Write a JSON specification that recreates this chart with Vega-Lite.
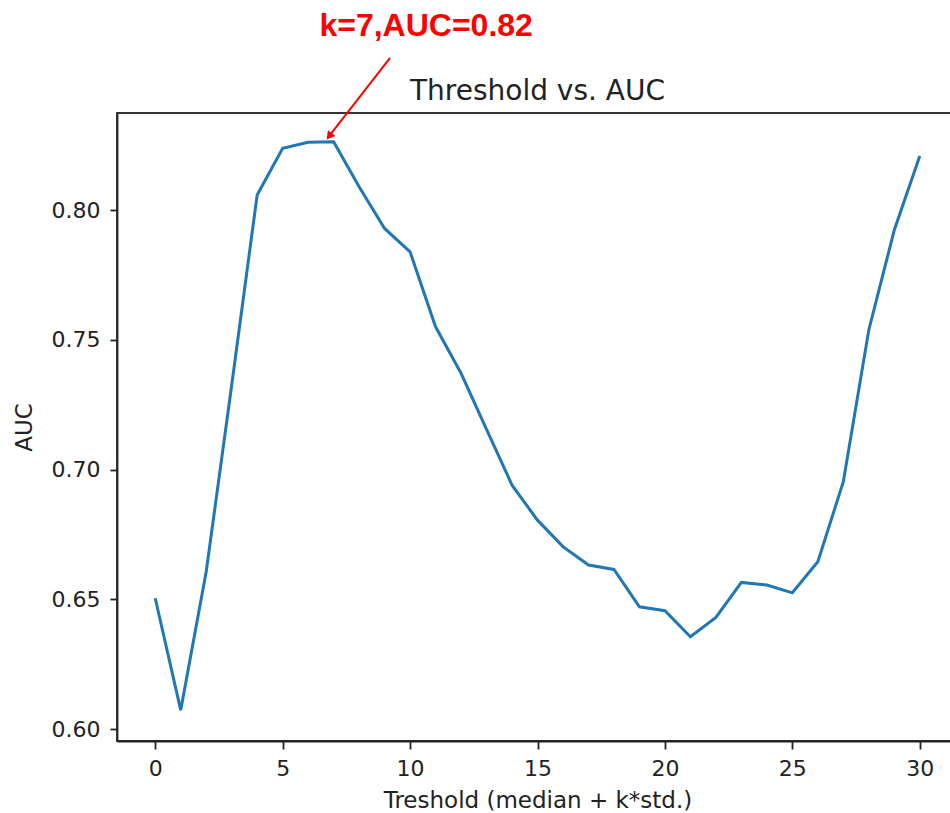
{
  "$schema": "https://vega.github.io/schema/vega-lite/v6.json",
  "width": 841,
  "height": 628,
  "autosize": "none",
  "padding": {"left": 117, "top": 113, "right": 0, "bottom": 72},
  "background": "white",
  "config": {
    "view": {"stroke": "#333333", "strokeWidth": 1.8},
    "font": "DejaVu Sans",
    "axis": {
      "grid": false,
      "domainColor": "#222222",
      "domainWidth": 1.8,
      "tickColor": "#222222",
      "tickWidth": 1.8,
      "tickSize": 8,
      "labelFont": "DejaVu Sans",
      "labelFontSize": 22,
      "labelColor": "#222222",
      "titleFont": "DejaVu Sans",
      "titleFontSize": 23,
      "titleFontWeight": "normal",
      "titleColor": "#222222"
    }
  },
  "datasets": {
    "auc": [
      {"k": 0, "auc": 0.6504},
      {"k": 1, "auc": 0.6073},
      {"k": 2, "auc": 0.6606},
      {"k": 3, "auc": 0.7325},
      {"k": 4, "auc": 0.8058},
      {"k": 5, "auc": 0.8238},
      {"k": 6, "auc": 0.8261},
      {"k": 7, "auc": 0.8263},
      {"k": 8, "auc": 0.8090},
      {"k": 9, "auc": 0.7929},
      {"k": 10, "auc": 0.7839},
      {"k": 11, "auc": 0.7550},
      {"k": 12, "auc": 0.7371},
      {"k": 13, "auc": 0.7155},
      {"k": 14, "auc": 0.6940},
      {"k": 15, "auc": 0.6805},
      {"k": 16, "auc": 0.6703},
      {"k": 17, "auc": 0.6632},
      {"k": 18, "auc": 0.6615},
      {"k": 19, "auc": 0.6471},
      {"k": 20, "auc": 0.6456},
      {"k": 21, "auc": 0.6356},
      {"k": 22, "auc": 0.6430},
      {"k": 23, "auc": 0.6565},
      {"k": 24, "auc": 0.6555},
      {"k": 25, "auc": 0.6525},
      {"k": 26, "auc": 0.6645},
      {"k": 27, "auc": 0.6953},
      {"k": 28, "auc": 0.7538},
      {"k": 29, "auc": 0.7923},
      {"k": 30, "auc": 0.8208}
    ],
    "arrow": [
      {"x": 9.215, "y": 0.8586, "x2": 6.80, "y2": 0.8282}
    ],
    "head": [
      {"x": 6.824, "y": 0.8284}
    ],
    "label": [
      {"x": 10.63, "y": 0.8672, "text": "k=7,AUC=0.82"}
    ],
    "title": [
      {"x": 15, "y": 0.8425, "text": "Threshold vs. AUC"}
    ]
  },
  "layer": [
    {
      "data": {"name": "auc"},
      "mark": {"type": "line", "color": "#1f77b4", "strokeWidth": 3},
      "encoding": {
        "x": {
          "field": "k",
          "type": "quantitative",
          "scale": {"domain": [-1.5, 31.5], "nice": false, "zero": false},
          "axis": {"values": [0, 5, 10, 15, 20, 25, 30], "title": "Treshold (median + k*std.)", "labelPadding": 9, "titlePadding": 10}
        },
        "y": {
          "field": "auc",
          "type": "quantitative",
          "scale": {"domain": [0.5954, 0.8374], "nice": false, "zero": false},
          "axis": {"values": [0.6, 0.65, 0.7, 0.75, 0.8], "format": ".2f", "title": "AUC", "tickSize": 7, "labelPadding": 10, "titlePadding": 15}
        }
      }
    },
    {
      "data": {"name": "arrow"},
      "mark": {"type": "rule", "color": "#ff0000", "strokeWidth": 2, "clip": false},
      "encoding": {
        "x": {"field": "x", "type": "quantitative"},
        "y": {"field": "y", "type": "quantitative"},
        "x2": {"field": "x2"},
        "y2": {"field": "y2"}
      }
    },
    {
      "data": {"name": "head"},
      "mark": {"type": "point", "shape": "triangle-up", "filled": true, "color": "#ff0000", "opacity": 1, "size": 90, "angle": 218, "clip": false},
      "encoding": {
        "x": {"field": "x", "type": "quantitative"},
        "y": {"field": "y", "type": "quantitative"}
      }
    },
    {
      "data": {"name": "label"},
      "mark": {"type": "text", "color": "#ff0000", "font": "Liberation Sans", "fontWeight": "bold", "fontSize": 32, "align": "center", "baseline": "alphabetic", "clip": false},
      "encoding": {
        "x": {"field": "x", "type": "quantitative"},
        "y": {"field": "y", "type": "quantitative"},
        "text": {"field": "text"}
      }
    },
    {
      "data": {"name": "title"},
      "mark": {"type": "text", "color": "#222222", "font": "DejaVu Sans", "fontSize": 28, "align": "center", "baseline": "alphabetic", "clip": false},
      "encoding": {
        "x": {"field": "x", "type": "quantitative"},
        "y": {"field": "y", "type": "quantitative"},
        "text": {"field": "text"}
      }
    }
  ]
}
